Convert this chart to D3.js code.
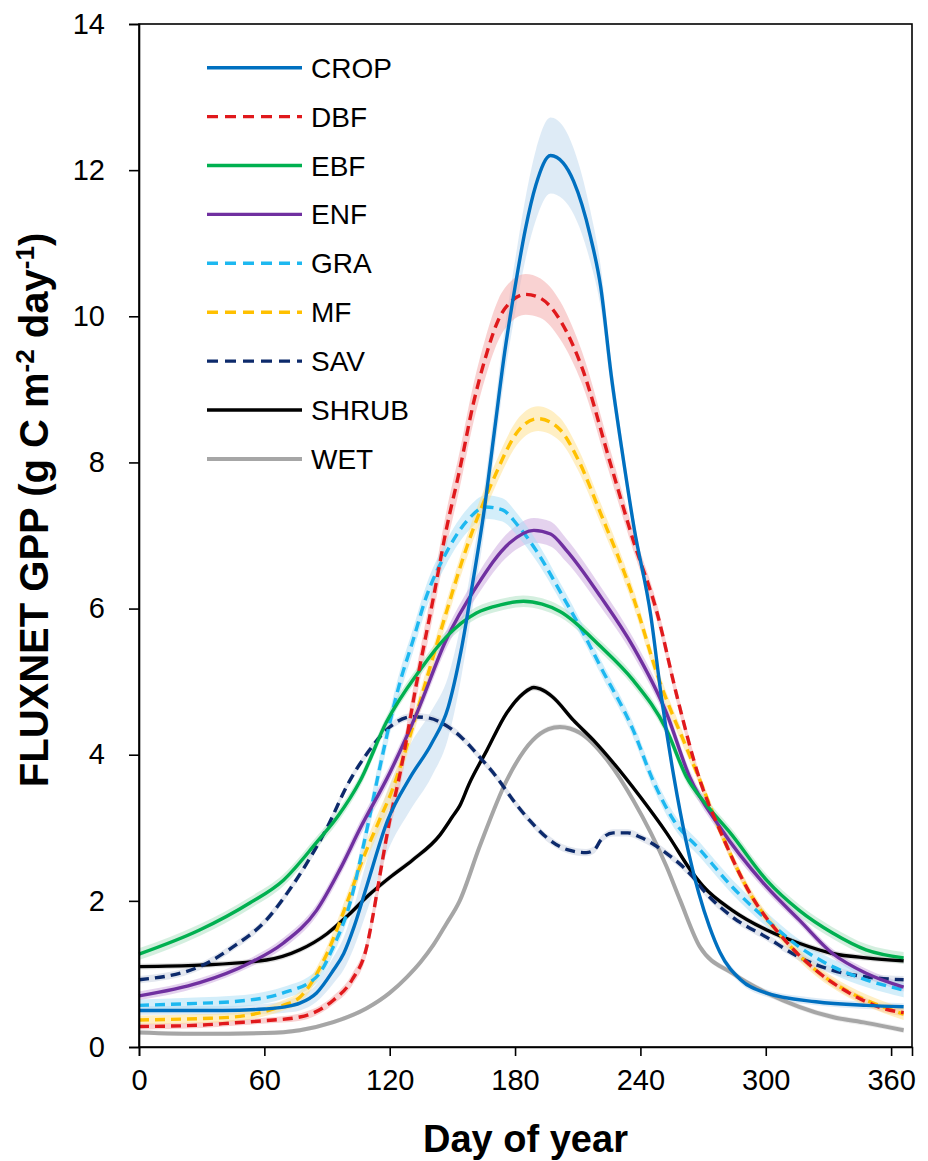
<!DOCTYPE html>
<html>
<head>
<meta charset="utf-8">
<script src="https://cdn.jsdelivr.net/npm/d3@7"></script>
<style>
  html, body { margin: 0; padding: 0; background: #fff; }
  svg { display: block; }
  text { font-family: "Liberation Sans", Arial, sans-serif; fill: #000; }
</style>
</head>
<body>
<svg id="chart" width="928" height="1161"></svg>
<script>
// Mean seasonal cycle of FLUXNET GPP per plant functional type.
// Each series: [day of year, GPP (g C m-2 day-1), half-width of shaded band]
const categories = ["CROP", "DBF", "EBF", "ENF", "GRA", "MF", "SAV", "SHRUB", "WET"];

const CROP = [
  [0,0.50,0.06],[20,0.50,0.06],[40,0.50,0.06],[60,0.52,0.07],[70,0.55,0.08],[77,0.60,0.1],
  [85,0.74,0.12],[93,1.05,0.18],[98,1.28,0.22],[103,1.65,0.28],[109,2.2,0.35],[119,3.1,0.42],
  [130,3.7,0.45],[140,4.15,0.45],[148,4.65,0.42],[154,5.4,0.38],[160,6.4,0.32],[165,7.3,0.3],
  [170,8.4,0.3],[175,9.5,0.32],[180,10.4,0.36],[185,11.2,0.42],[190,11.8,0.48],[197,12.2,0.52],
  [203,12.1,0.5],[208,11.85,0.45],[216,11.1,0.35],[221,10.4,0.28],[226,9.2,0.2],[231,8.2,0.15],
  [237,7.1,0.12],[245,5.9,0.1],[250,4.8,0.1],[256,3.7,0.08],[262,2.8,0.07],[268,2.1,0.06],
  [273,1.65,0.05],[278,1.3,0.05],[288,0.92,0.05],[300,0.74,0.05],[324,0.62,0.05],[348,0.57,0.05],[366,0.55,0.05]
];
const DBF = [
  [0,0.28,0.04],[30,0.3,0.04],[45,0.33,0.04],[60,0.36,0.04],[77,0.41,0.05],[93,0.64,0.06],
  [102,0.92,0.08],[109,1.37,0.1],[112,1.8,0.12],[115,2.3,0.14],[120,3.1,0.16],[125,3.75,0.18],
  [133,5.0,0.2],[141,6.16,0.22],[147,7.07,0.24],[153.5,7.9,0.25],[160,8.8,0.26],[166,9.45,0.27],
  [172,9.95,0.28],[178,10.2,0.28],[185,10.3,0.28],[192,10.25,0.27],[201.5,9.95,0.26],[212,9.3,0.22],
  [225.5,8.0,0.18],[236.5,6.94,0.14],[248,5.94,0.12],[257.5,4.8,0.1],[268.5,3.65,0.08],[278,2.97,0.07],
  [292.5,2.1,0.06],[308,1.5,0.05],[324,1.05,0.05],[340,0.74,0.05],[356,0.53,0.05],[366,0.47,0.05]
];
const EBF = [
  [0,1.27,0.08],[29,1.6,0.08],[53,1.97,0.08],[69,2.28,0.08],[85,2.8,0.08],[95,3.15,0.08],
  [106,3.65,0.08],[118.5,4.45,0.08],[134.5,5.16,0.08],[147,5.61,0.08],[161.5,5.94,0.08],[173,6.05,0.08],
  [184,6.1,0.08],[193,6.06,0.08],[201.5,5.96,0.08],[221,5.48,0.08],[236.5,5.02,0.08],[252.5,4.34,0.08],
  [262,3.7,0.08],[272,3.3,0.08],[283,2.93,0.08],[300.5,2.28,0.08],[316,1.87,0.08],[332,1.56,0.08],
  [348,1.33,0.08],[366,1.22,0.08]
];
const ENF = [
  [0,0.7,0.06],[29,0.88,0.06],[53,1.15,0.06],[69,1.42,0.07],[85,1.87,0.08],[96,2.42,0.09],
  [106,3.0,0.1],[120,3.75,0.1],[133,4.57,0.1],[147,5.57,0.12],[161.5,6.3,0.14],[177.5,6.9,0.16],
  [189,7.07,0.17],[197,7.02,0.17],[204.5,6.8,0.16],[221,6.16,0.14],[236.5,5.48,0.12],[252.5,4.57,0.1],
  [263.5,3.7,0.09],[278,3.01,0.08],[300.5,2.19,0.07],[316,1.74,0.06],[332,1.28,0.06],[348,1.01,0.06],[366,0.82,0.06]
];
const GRA = [
  [0,0.57,0.08],[30,0.6,0.08],[45,0.62,0.08],[69,0.74,0.08],[85,0.96,0.09],[93,1.37,0.1],
  [101,1.97,0.12],[107,2.7,0.14],[110,3.1,0.15],[115,3.79,0.16],[125,5.0,0.16],[131,5.55,0.16],
  [137.5,6.16,0.16],[147,6.76,0.16],[157,7.2,0.16],[166,7.39,0.16],[174,7.35,0.16],[181,7.15,0.15],
  [190,6.8,0.14],[203,6.16,0.12],[212,5.7,0.1],[221,5.2,0.1],[236.5,4.34,0.1],[246,3.65,0.1],
  [256,3.1,0.1],[268.5,2.7,0.1],[284,2.19,0.1],[300.5,1.74,0.1],[316,1.37,0.1],[332,1.1,0.1],
  [348,0.92,0.1],[366,0.78,0.1]
];
const MF = [
  [0,0.37,0.06],[30,0.39,0.06],[45,0.41,0.06],[69,0.57,0.07],[77,0.68,0.08],[90,1.28,0.1],
  [99.5,1.97,0.12],[107,2.56,0.13],[115,3.1,0.14],[121,3.5,0.14],[128,4.1,0.14],[137.5,5.02,0.14],
  [147,5.94,0.14],[157,6.85,0.15],[169.5,7.76,0.16],[182,8.45,0.17],[191,8.6,0.17],[201.5,8.45,0.16],
  [210,8.05,0.15],[221,7.3,0.14],[236.5,6.16,0.12],[249,5.02,0.1],[262,4.1,0.09],[268.5,3.65,0.08],
  [278,2.97,0.08],[292.5,2.1,0.08],[308,1.5,0.08],[324,1.05,0.08],[340,0.75,0.08],[356,0.55,0.08],[366,0.45,0.08]
];
const SAV = [
  [0,0.92,0.05],[29,1.1,0.05],[45,1.37,0.05],[61,1.74,0.05],[72,2.15,0.05],[80,2.5,0.05],
  [90,3.0,0.05],[100,3.6,0.05],[110,4.05,0.05],[120,4.38,0.05],[131,4.52,0.05],
  [139,4.5,0.05],[147,4.4,0.05],[155,4.22,0.05],[163,3.97,0.05],[171,3.7,0.05],[179,3.38,0.05],
  [187,3.1,0.05],[195,2.87,0.05],[205,2.7,0.05],[214,2.66,0.05],[218,2.7,0.05],[221,2.83,0.05],
  [227,2.93,0.05],[234,2.93,0.05],[240,2.87,0.05],[252.5,2.65,0.05],[265,2.33,0.05],[270,2.15,0.05],
  [284,1.78,0.05],[300.5,1.5,0.05],[316,1.23,0.05],[332,1.05,0.05],[348,0.96,0.05],[366,0.92,0.05]
];
const SHRUB = [
  [0,1.1,0.04],[29,1.12,0.04],[61,1.19,0.04],[77,1.33,0.04],[90,1.55,0.04],[100,1.8,0.04],
  [110,2.08,0.04],[120,2.32,0.04],[131,2.56,0.04],[144,2.9,0.04],[150,3.15,0.04],
  [153.5,3.3,0.04],[158,3.6,0.04],[166.5,4.06,0.04],[176,4.57,0.04],[184,4.84,0.04],[189,4.92,0.04],
  [192,4.9,0.04],[198,4.79,0.04],[208,4.47,0.04],[217.5,4.2,0.04],[227,3.89,0.04],[240,3.42,0.04],
  [252.5,2.93,0.04],[265,2.38,0.04],[270,2.2,0.04],[284,1.87,0.04],[300.5,1.6,0.04],[316,1.42,0.04],
  [332,1.28,0.04],[348,1.22,0.04],[366,1.18,0.04]
];
const WET = [
  [0,0.2,0.03],[30,0.18,0.03],[60,0.19,0.03],[77,0.23,0.03],[93,0.34,0.03],[109,0.53,0.03],
  [120,0.74,0.03],[128,0.95,0.03],[135,1.17,0.03],[141,1.4,0.03],[147,1.68,0.03],[153.5,2.0,0.03],
  [163,2.74,0.04],[176,3.65,0.04],[188.5,4.2,0.04],[196,4.35,0.04],[201.5,4.38,0.04],[211,4.3,0.04],
  [224,3.93,0.04],[236.5,3.38,0.04],[252.5,2.47,0.04],[259,2.01,0.04],[268.5,1.37,0.04],[284,1.01,0.04],
  [300.5,0.74,0.04],[316,0.55,0.04],[332,0.41,0.04],[348,0.33,0.04],[366,0.23,0.04]
];

const seriesValues = [CROP, DBF, EBF, ENF, GRA, MF, SAV, SHRUB, WET];
const lineColors = ["#0070C0", "#E0191C", "#00B050", "#7030A0", "#1DB8F0", "#FFC000", "#0D2A6B", "#000000", "#A6A6A6"];
const bandColors = ["#BDD7EE", "#F4A6A6", "#A9DFBF", "#C9A6DE", "#A8DDF5", "#FFE08A", "#C8D0E0", "#BDBDBD", "#D9D9D9"];
const dashed = [false, true, false, false, true, true, true, false, false];

const xTicks = [0, 60, 120, 180, 240, 300, 360];
const yTicks = [0, 2, 4, 6, 8, 10, 12, 14];

const svg = d3.select("#chart");
const margin = { left: 139, right: 16, top: 24, bottom: 114 };
const W = 928, H = 1161;

const x = d3.scaleLinear().domain([0, 370]).range([margin.left, W - margin.right]);
const y = d3.scaleLinear().domain([0, 14]).range([H - margin.bottom, margin.top]);

const plot = svg.append("g");

// shaded spread bands
const area = d3.area()
  .x(d => x(d[0]))
  .y0(d => y(d[1] - d[2]))
  .y1(d => y(d[1] + d[2]))
  .curve(d3.curveMonotoneX);

const line = d3.line()
  .x(d => x(d[0]))
  .y(d => y(d[1]))
  .curve(d3.curveMonotoneX);

seriesValues.forEach((s, i) => {
  plot.append("path")
    .attr("d", area(s))
    .attr("fill", bandColors[i])
    .attr("opacity", 0.5);
});

// draw in reverse order so CROP lies on top
for (let i = seriesValues.length - 1; i >= 0; i--) {
  plot.append("path")
    .attr("d", line(seriesValues[i]))
    .attr("fill", "none")
    .attr("stroke", lineColors[i])
    .attr("stroke-width", i === 8 ? 4 : 3.4)
    .attr("stroke-linejoin", "round")
    .attr("stroke-dasharray", dashed[i] ? "10,6" : null);
}

// frame
svg.append("rect")
  .attr("x", x(0)).attr("y", y(14))
  .attr("width", x(370) - x(0)).attr("height", y(0) - y(14))
  .attr("fill", "none").attr("stroke", "#000").attr("stroke-width", 1.6);

// axes
const xAxis = svg.append("g")
  .attr("transform", `translate(0,${y(0)})`)
  .call(d3.axisBottom(x).tickValues(xTicks).tickSize(9).tickPadding(13));
const yAxis = svg.append("g")
  .attr("transform", `translate(${x(0)},0)`)
  .call(d3.axisLeft(y).tickValues(yTicks).tickSize(10).tickPadding(24));

[xAxis, yAxis].forEach(g => {
  g.select(".domain").attr("stroke", "#000").attr("stroke-width", 1.6);
  g.selectAll(".tick line").attr("stroke", "#000").attr("stroke-width", 1.6);
  g.selectAll(".tick text")
    .attr("font-family", "'Liberation Sans', Arial, sans-serif")
    .attr("font-size", 29)
    .attr("fill", "#000");
});

// axis titles
svg.append("text")
  .attr("x", (x(0) + x(370)) / 2)
  .attr("y", 1152)
  .attr("text-anchor", "middle")
  .attr("font-size", 38)
  .attr("font-weight", "bold")
  .text("Day of year");

const yTitle = svg.append("text")
  .attr("transform", `translate(48,510) rotate(-90)`)
  .attr("text-anchor", "middle")
  .attr("font-size", 40)
  .attr("font-weight", "bold");
yTitle.append("tspan").text("FLUXNET GPP (g C m");
yTitle.append("tspan").attr("dy", -14).attr("font-size", 26).text("-2");
yTitle.append("tspan").attr("dy", 14).text(" day");
yTitle.append("tspan").attr("dy", -14).attr("font-size", 26).text("-1");
yTitle.append("tspan").attr("dy", 14).text(")");

// legend
const legend = svg.append("g");
categories.forEach((name, i) => {
  const ly = 67.7 + i * 48.9;
  legend.append("line")
    .attr("x1", 207).attr("x2", 302)
    .attr("y1", ly).attr("y2", ly)
    .attr("stroke", lineColors[i])
    .attr("stroke-width", i === 8 ? 4 : 3.4)
    .attr("stroke-dasharray", dashed[i] ? "11,7" : null);
  legend.append("text")
    .attr("x", 311).attr("y", ly)
    .attr("dy", "0.36em")
    .attr("font-size", 28)
    .text(name);
});
</script>
</body>
</html>
